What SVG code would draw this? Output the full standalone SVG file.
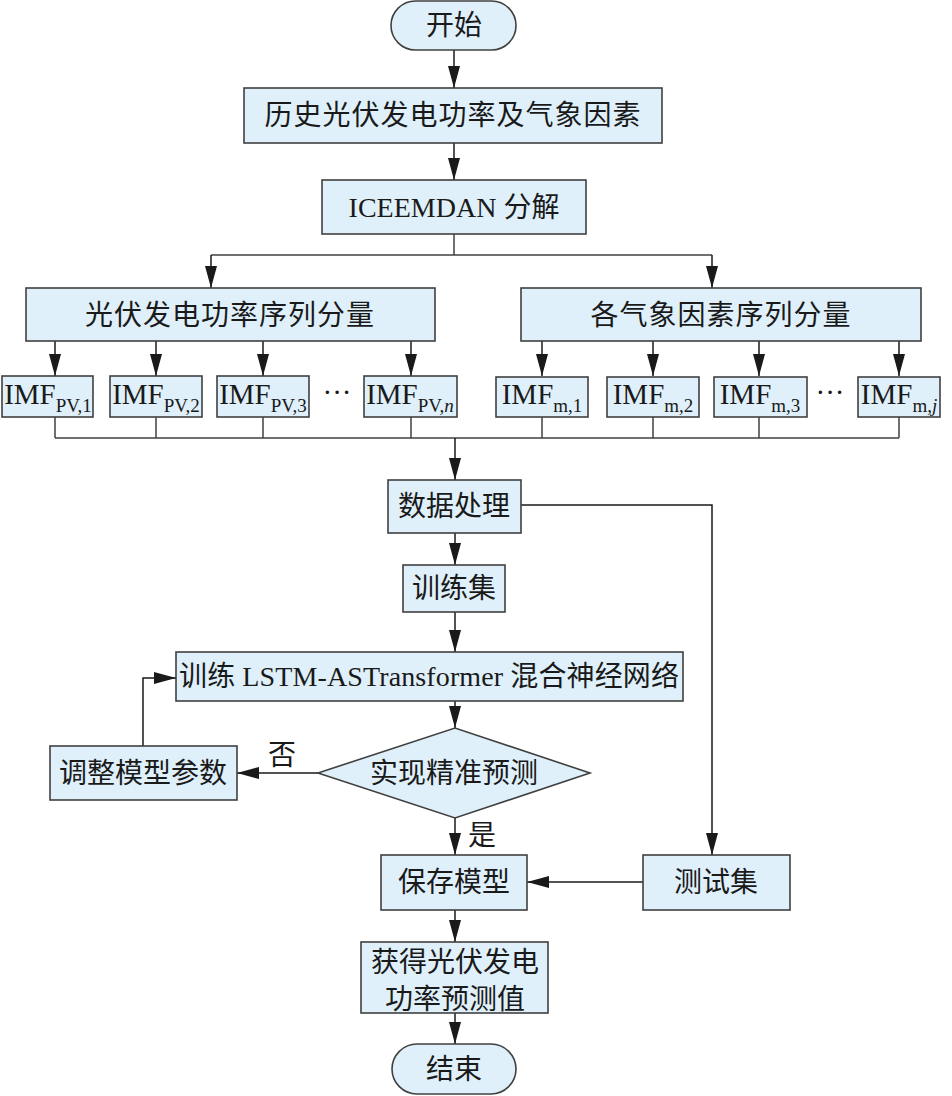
<svg xmlns="http://www.w3.org/2000/svg" width="952" height="1096" viewBox="0 0 952 1096">
<defs>
<marker id="arr" markerUnits="userSpaceOnUse" markerWidth="22" markerHeight="12" refX="22" refY="6" orient="auto">
<path d="M0,0 L22,6 L0,12 z" fill="#1a1a1a"/>
</marker>
<style>
.box{fill:#dff0fa;stroke:#404040;stroke-width:1.6}
.t{font-family:"Liberation Serif","Noto Sans CJK SC",serif;font-size:28px;fill:#1a1a1a;text-anchor:middle}
.imf{font-family:"Liberation Serif",serif;font-size:29px;fill:#1a1a1a;text-anchor:middle}
.sub{font-size:19px}
.ln{fill:none;stroke:#404040;stroke-width:1.5}
.ar{fill:none;stroke:#1a1a1a;stroke-width:1.5;marker-end:url(#arr)}
</style>
</defs>
<rect width="952" height="1096" fill="#ffffff"/>

<g id="connectors">
<line class="ar" x1="454" y1="50" x2="454" y2="88"/>
<line class="ar" x1="454" y1="143" x2="454" y2="180"/>
<polyline class="ln" points="454,234 454,255"/>
<line class="ln" x1="211" y1="255" x2="712" y2="255"/>
<line class="ar" x1="211" y1="255" x2="211" y2="288"/>
<line class="ar" x1="712" y1="255" x2="712" y2="288"/>
<line class="ar" x1="55" y1="341" x2="55" y2="376"/>
<line class="ar" x1="156" y1="341" x2="156" y2="376"/>
<line class="ar" x1="263" y1="341" x2="263" y2="376"/>
<line class="ar" x1="411" y1="341" x2="411" y2="376"/>
<line class="ar" x1="542" y1="341" x2="542" y2="376"/>
<line class="ar" x1="653" y1="341" x2="653" y2="376"/>
<line class="ar" x1="759" y1="341" x2="759" y2="376"/>
<line class="ar" x1="899" y1="341" x2="899" y2="376"/>
<line class="ln" x1="55" y1="417" x2="55" y2="438"/>
<line class="ln" x1="156" y1="417" x2="156" y2="438"/>
<line class="ln" x1="263" y1="417" x2="263" y2="438"/>
<line class="ln" x1="411" y1="417" x2="411" y2="438"/>
<line class="ln" x1="542" y1="417" x2="542" y2="438"/>
<line class="ln" x1="653" y1="417" x2="653" y2="438"/>
<line class="ln" x1="759" y1="417" x2="759" y2="438"/>
<line class="ln" x1="899" y1="417" x2="899" y2="438"/>
<line class="ln" x1="55" y1="438" x2="899" y2="438"/>
<line class="ar" x1="455" y1="438" x2="455" y2="480"/>
<polyline class="ar" points="521,505 712,505 712,855"/>
<line class="ar" x1="455" y1="533" x2="455" y2="565"/>
<line class="ar" x1="455" y1="612" x2="455" y2="652"/>
<line class="ar" x1="455" y1="701" x2="455" y2="728"/>
<line class="ar" x1="318" y1="773" x2="237" y2="773"/>
<polyline class="ar" points="143,746 143,678 176,678"/>
<line class="ar" x1="455" y1="818" x2="455" y2="855"/>
<line class="ar" x1="643" y1="882" x2="527" y2="882"/>
<line class="ar" x1="455" y1="910" x2="455" y2="942"/>
<line class="ar" x1="455" y1="1013" x2="455" y2="1044"/>
<text class="t" x="282" y="765">否</text>
<text class="t" x="482" y="845">是</text>
</g>

<g id="start">
<rect class="box" x="391" y="1" width="125" height="49" rx="24.5"/>
<text class="t" x="454" y="35">开始</text>
</g>
<g id="history">
<rect class="box" x="244" y="88" width="418" height="55"/>
<text class="t" x="453" y="125" letter-spacing="1">历史光伏发电功率及气象因素</text>
</g>
<g id="iceemdan">
<rect class="box" x="322" y="180" width="264" height="54"/>
<text class="t" x="454" y="217">ICEEMDAN 分解</text>
</g>
<g id="pvseries">
<rect class="box" x="26" y="288" width="409" height="53"/>
<text class="t" x="230" y="325" letter-spacing="1">光伏发电功率序列分量</text>
</g>
<g id="metseries">
<rect class="box" x="521" y="288" width="400" height="53"/>
<text class="t" x="721" y="325" letter-spacing="1">各气象因素序列分量</text>
</g>

<g id="imfpv1">
<rect class="box" x="2" y="376" width="91" height="41"/>
<text class="imf" x="48" y="404">IMF<tspan class="sub" dy="8">PV,1</tspan></text>
</g>
<g id="imfpv2">
<rect class="box" x="110" y="376" width="92" height="41"/>
<text class="imf" x="156" y="404">IMF<tspan class="sub" dy="8">PV,2</tspan></text>
</g>
<g id="imfpv3">
<rect class="box" x="217" y="376" width="92" height="41"/>
<text class="imf" x="263" y="404">IMF<tspan class="sub" dy="8">PV,3</tspan></text>
</g>
<text class="imf" x="337" y="402">···</text>
<g id="imfpvn">
<rect class="box" x="364" y="376" width="93" height="41"/>
<text class="imf" x="410" y="404">IMF<tspan class="sub" dy="8">PV,<tspan font-style="italic">n</tspan></tspan></text>
</g>
<g id="imfm1">
<rect class="box" x="496" y="377" width="92" height="40"/>
<text class="imf" x="542" y="404">IMF<tspan class="sub" dy="8">m,1</tspan></text>
</g>
<g id="imfm2">
<rect class="box" x="607" y="377" width="92" height="40"/>
<text class="imf" x="653" y="404">IMF<tspan class="sub" dy="8">m,2</tspan></text>
</g>
<g id="imfm3">
<rect class="box" x="714" y="377" width="93" height="40"/>
<text class="imf" x="760" y="404">IMF<tspan class="sub" dy="8">m,3</tspan></text>
</g>
<text class="imf" x="830" y="402">···</text>
<g id="imfmj">
<rect class="box" x="858" y="377" width="82" height="40"/>
<text class="imf" x="899" y="404">IMF<tspan class="sub" dy="8">m,<tspan font-style="italic">j</tspan></tspan></text>
</g>

<g id="dataproc">
<rect class="box" x="388" y="480" width="133" height="53"/>
<text class="t" x="454" y="516">数据处理</text>
</g>
<g id="trainset">
<rect class="box" x="403" y="565" width="102" height="47"/>
<text class="t" x="454" y="598">训练集</text>
</g>
<g id="train">
<rect class="box" x="176" y="652" width="507" height="49"/>
<text class="t" x="429" y="686" textLength="500" lengthAdjust="spacing">训练 LSTM-ASTransformer 混合神经网络</text>
</g>
<g id="decision">
<polygon class="box" points="318,773 455,728 590,773 455,818"/>
<text class="t" x="454" y="783">实现精准预测</text>
</g>
<g id="adjust">
<rect class="box" x="50" y="746" width="187" height="54"/>
<text class="t" x="143" y="783">调整模型参数</text>
</g>
<g id="save">
<rect class="box" x="381" y="855" width="146" height="55"/>
<text class="t" x="454" y="892">保存模型</text>
</g>
<g id="testset">
<rect class="box" x="643" y="855" width="147" height="55"/>
<text class="t" x="716" y="892">测试集</text>
</g>
<g id="result">
<rect class="box" x="361" y="942" width="187" height="71"/>
<text class="t" x="455" y="972">获得光伏发电</text>
<text class="t" x="455" y="1009">功率预测值</text>
</g>
<g id="end">
<rect class="box" x="392" y="1044" width="124" height="50" rx="25"/>
<text class="t" x="454" y="1079">结束</text>
</g>
</svg>
